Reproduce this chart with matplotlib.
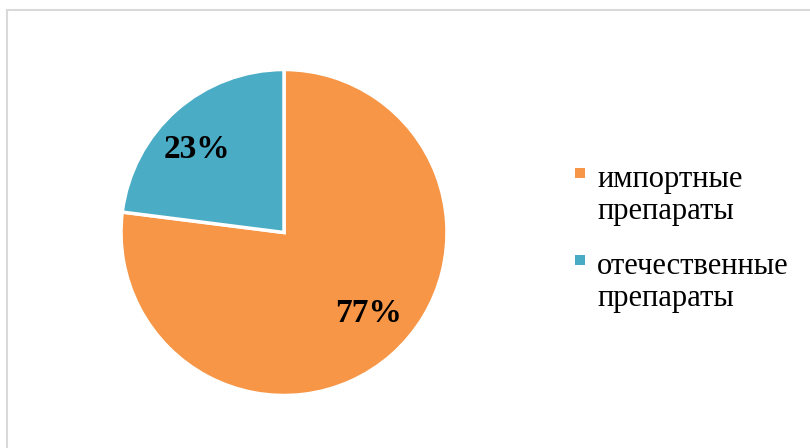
import matplotlib
matplotlib.use("Agg")
import matplotlib.pyplot as plt
from matplotlib.patches import Rectangle
from matplotlib.lines import Line2D

labels = ["импортные\nпрепараты", "отечественные\nпрепараты"]
values = [77, 23]
colors = ["#F79646", "#4BACC6"]
pct_pos = [(0.518, -0.494), (-0.537, 0.512)]

W, H = 810, 448
fig = plt.figure(figsize=(W / 100, H / 100), dpi=100)
fig.patch.set_facecolor("white")

# border
fig.add_artist(Line2D([7 / W, 7 / W], [0, 1 - 10 / H], transform=fig.transFigure,
                      color="#D9D9D9", lw=1.5))
fig.add_artist(Line2D([7 / W, 1], [1 - 10 / H, 1 - 10 / H], transform=fig.transFigure,
                      color="#D9D9D9", lw=1.5))

cx, cy, r = 284, 232.5, 163
ax = fig.add_axes([(cx - r) / W, 1 - (cy + r) / H, 2 * r / W, 2 * r / H])
wedges, texts, autotexts = ax.pie(
    values, colors=colors, startangle=90, counterclock=False,
    autopct=lambda p: f"{p:.0f}%", radius=1.0,
    wedgeprops=dict(edgecolor="white", linewidth=2.5),
    textprops=dict(family="Liberation Serif", fontsize=24, fontweight="bold", color="black"),
)
for t, pos in zip(autotexts, pct_pos):
    t.set_position(pos)
    t.set_ha("center")
    t.set_va("center")
ax.set_xlim(-1, 1)
ax.set_ylim(-1, 1)
ax.set_aspect("equal")
ax.axis("off")

# legend
for i, (lab, col) in enumerate(zip(labels, colors)):
    ytop = 168 + i * 87
    fig.add_artist(Rectangle((575 / W, 1 - (ytop + 10) / H), 10 / W, 10 / H,
                             transform=fig.transFigure, facecolor=col, edgecolor="none"))
    fig.text(597 / W, 1 - (219 + i * 87) / H, lab, family="Liberation Serif",
             fontsize=22, ha="left", va="baseline", linespacing=1.15, color="black")

fig.savefig("out.png", dpi=100)
